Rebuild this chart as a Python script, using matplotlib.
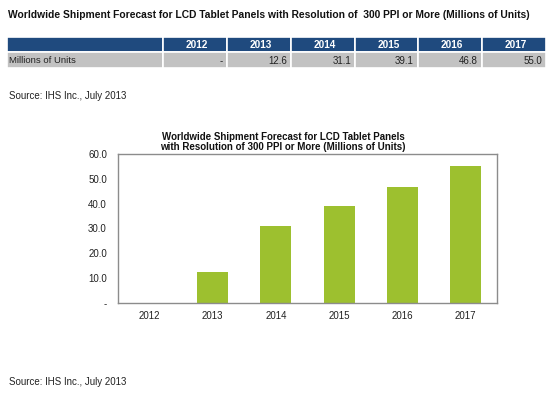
import matplotlib
matplotlib.use("Agg")
import matplotlib.pyplot as plt
from matplotlib.patches import Rectangle

plt.rcParams['font.family'] = ['Liberation Sans', 'DejaVu Sans']

# data
years = ['2012', '2013', '2014', '2015', '2016', '2017']
units = [0.0, 12.6, 31.1, 39.1, 46.8, 55.0]
unit_labels = ['-', '12.6', '31.1', '39.1', '46.8', '55.0']
y_ticks = [0, 10, 20, 30, 40, 50, 60]
y_tick_labels = ['-', '10.0', '20.0', '30.0', '40.0', '50.0', '60.0']

title = 'Worldwide Shipment Forecast for LCD Tablet Panels with Resolution of  300 PPI or More (Millions of Units)'
chart_title = 'Worldwide Shipment Forecast for LCD Tablet Panels\nwith Resolution of 300 PPI or More (Millions of Units)'
source = 'Source: IHS Inc., July 2013'

navy = '#1F4A7E'
gray_row = '#C2C2C2'
green = '#9DC02F'

W, H = 550, 399
fig = plt.figure(figsize=(W / 100, H / 100), dpi=100)

# background axes in pixel coords for the table and text
bg = fig.add_axes([0, 0, 1, 1])
bg.set_xlim(0, W)
bg.set_ylim(H, 0)
bg.axis('off')

bg.text(8, 15, title, fontsize=7.4, fontweight='bold', color='#111111', va='center', ha='left')

# table
edges = [7, 163, 227, 291, 355, 418, 482, 546]
top, mid, bot = 37, 52, 68
for i in range(len(edges) - 1):
    x0, x1 = edges[i], edges[i + 1]
    bg.add_patch(Rectangle((x0, top), x1 - x0, mid - top, facecolor=navy, edgecolor='white', lw=1.2))
    bg.add_patch(Rectangle((x0, mid), x1 - x0, bot - mid, facecolor=gray_row, edgecolor='white', lw=1.2))
bg.text(9, (mid + bot) / 2 + 0.5, 'Millions of Units', fontsize=6.8, color='#222222', va='center', ha='left')
for i, yr in enumerate(years):
    x0, x1 = edges[i + 1], edges[i + 2]
    bg.text((x0 + x1) / 2 + 2, (top + mid) / 2, yr, fontsize=7.2, fontweight='bold', color='white',
            va='center', ha='center')
    bg.text(x1 - 4, (mid + bot) / 2 + 1, unit_labels[i], fontsize=7, color='#222222',
            va='center', ha='right')

bg.text(9, 96, source, fontsize=7, color='#222222', va='center', ha='left')
bg.text(9, 382, source, fontsize=7, color='#222222', va='center', ha='left')

# bar chart
left, right, ptop, pbot = 118, 497, 154, 303
ax = fig.add_axes([left / W, 1 - pbot / H, (right - left) / W, (pbot - ptop) / H])
x = list(range(len(years)))
ax.bar(x, units, width=0.49, color=green)
ax.set_xlim(-0.5, len(years) - 0.5)
ax.set_ylim(0, 60)
ax.set_xticks(x)
ax.set_xticklabels(years, fontsize=7, color='#222222')
ax.set_yticks(y_ticks)
ax.set_yticklabels(y_tick_labels, fontsize=7, color='#222222')
ax.tick_params(length=0, pad=8)
ax.tick_params(axis='x', pad=6)
for s in ax.spines.values():
    s.set_color('#8C8C8C')
    s.set_linewidth(1.0)

bg.text(283, 142.5, chart_title, fontsize=7.0, fontweight='bold', color='#111111',
        va='center', ha='center', linespacing=1.0)

fig.savefig('out.png', dpi=100)
